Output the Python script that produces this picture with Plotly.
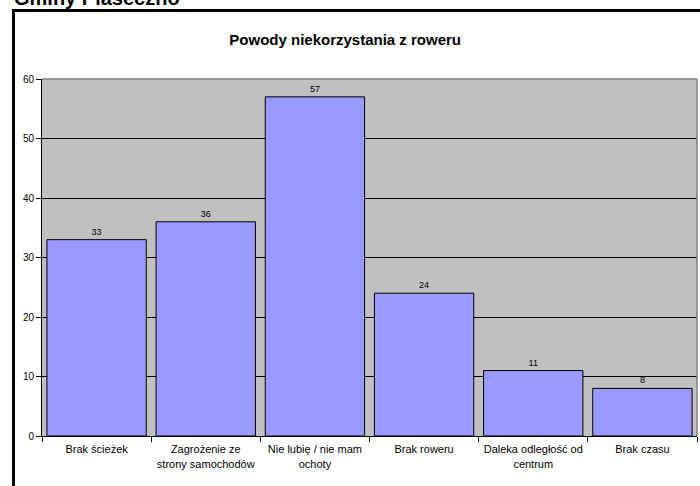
import plotly.graph_objects as go

categories = ["Brak ścieżek", "Zagrożenie ze<br>strony samochodów", "Nie lubię / nie mam<br>ochoty",
              "Brak roweru", "Daleka odległość od<br>centrum", "Brak czasu"]
values = [33, 36, 57, 24, 11, 8]
y_ticks = [0, 10, 20, 30, 40, 50, 60]

FONT = "Liberation Sans, Arial, sans-serif"
L, R, T, B = 42, 3, 79, 50
W, H = 700, 486
pw, ph = W - L - R, H - T - B

def px(x):
    return (x - L) / pw

def py(y):
    return (H - B - y) / ph

fig = go.Figure()
fig.add_trace(go.Bar(
    x=categories, y=values,
    marker=dict(color="#9999ff", line=dict(color="black", width=1)),
    text=[str(v) for v in values], textposition="outside",
    textfont=dict(size=9, color="black", family=FONT),
    cliponaxis=False,
))

fig.update_layout(
    width=W, height=H,
    margin=dict(l=L, r=R, t=T, b=B),
    paper_bgcolor="white", plot_bgcolor="#c0c0c0",
    bargap=0.09,
    showlegend=False,
    font=dict(family=FONT, color="black"),
    title=dict(text="<b>Powody niekorzystania z roweru</b>", x=px(365), xanchor="center",
               y=1 - 40 / H, yanchor="middle", font=dict(size=15, family=FONT, color="black")),
    xaxis=dict(tickson="boundaries", ticks="outside", ticklen=5, tickcolor="black",
               showline=True, linecolor="black", linewidth=1, showgrid=False,
               ticklabelstandoff=3,
               tickfont=dict(size=11, family=FONT, color="black")),
    yaxis=dict(range=[0, 60], tickvals=y_ticks, ticks="outside", ticklen=5, tickcolor="black",
               showline=True, linecolor="black", linewidth=1, gridcolor="black", gridwidth=1,
               zeroline=False, tickfont=dict(size=10, family=FONT, color="black")),
)

# gray border on top/right of plot area
fig.add_shape(type="line", xref="paper", yref="paper", x0=0, x1=1, y0=1, y1=1,
              line=dict(color="#808080", width=1.5))
fig.add_shape(type="line", xref="paper", yref="paper", x0=1, x1=1, y0=0, y1=1,
              line=dict(color="#808080", width=1.5))

# black frame (top and left)
fig.add_shape(type="line", xref="paper", yref="paper", x0=px(12), x1=px(705), y0=py(10.5), y1=py(10.5),
              line=dict(color="black", width=3))
fig.add_shape(type="line", xref="paper", yref="paper", x0=px(13.5), x1=px(13.5), y0=py(9), y1=py(495),
              line=dict(color="black", width=3))

# page heading, cut off at top
fig.add_annotation(text="<b>Gminy Piaseczno</b>", xref="paper", yref="paper", x=px(12), y=py(11),
                   xanchor="left", yanchor="bottom", showarrow=False,
                   font=dict(size=20, family=FONT, color="black"))

fig.write_html("out.html")
